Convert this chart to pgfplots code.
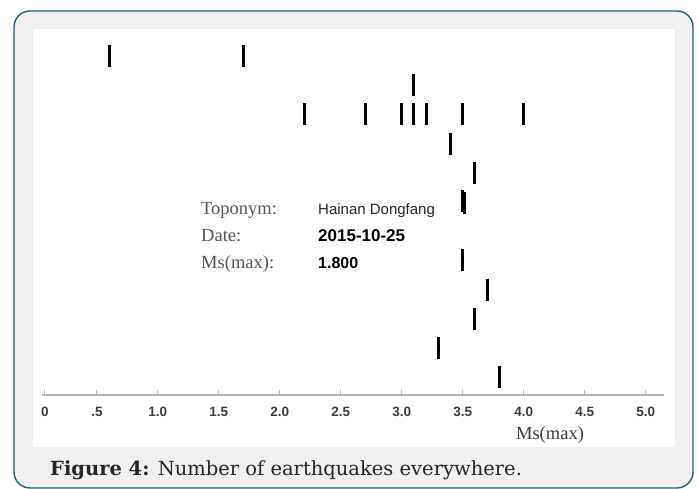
\documentclass[border=0pt]{standalone}
\usepackage{fontspec}
\setmainfont{Liberation Serif}
\newfontfamily\arialf{Liberation Sans}
\newfontfamily\capf{DejaVu Serif}
\usepackage{pgfplots}
\pgfplotsset{compat=1.18}
\definecolor{frameblue}{HTML}{1E5F7A}
\definecolor{framebg}{HTML}{F1F0EE}
\definecolor{axgray}{HTML}{B4B4B4}
\definecolor{ticklab}{HTML}{3C3C3C}
\definecolor{serifgray}{HTML}{555555}
\begin{document}
\begin{tikzpicture}[x=1pt,y=1pt]
\path[use as bounding box] (0,0) rectangle (699,489);
\draw[frameblue, line width=1.4pt, fill=framebg, rounded corners=16pt] (14,1) rectangle (693,478);
\fill[white] (33,42) rectangle (675,460);
\begin{axis}[at={(42pt,94pt)}, anchor=south west, scale only axis,
  width=622pt, height=368.2pt,
  xmin=0.05, xmax=5.15, ymin=0.39, ymax=13,
  axis x line*=bottom, axis y line=none,
  clip=false,
  axis line style={axgray, line width=1.5pt},
  tick align=inside, major tick length=5pt,
  x tick style={axgray, line width=1pt},
  xtick={0.074,0.5,1,1.5,2,2.5,3,3.5,4,4.5,5},
  xticklabels={0,.5,1.0,1.5,2.0,2.5,3.0,3.5,4.0,4.5,5.0},
  xticklabel style={font=\arialf\bfseries\fontsize{13.5}{13.5}\selectfont, text=ticklab, yshift=-9pt},
  ytick=\empty,
]
\addplot[only marks, mark=|, mark size=11pt, mark options={line width=3pt, black}] coordinates {
 (0.6,12) (1.7,12)
 (3.1,11)
 (2.2,10) (2.7,10) (3.0,10) (3.1,10) (3.2,10) (3.5,10) (4.0,10)
 (3.4,9)
 (3.6,8)
 (3.495,7.03) (3.515,6.97)
 (3.5,5)
 (3.7,4)
 (3.6,3)
 (3.3,2)
 (3.8,1)
};
\end{axis}
\node[anchor=base, text=ticklab, font=\fontsize{18.5}{18.5}\selectfont] at (550,49) {Ms(max)};
\node[anchor=base west, inner sep=0pt, text=serifgray, font=\fontsize{18.5}{18.5}\selectfont] at (201,274) {Toponym:};
\node[anchor=base west, inner sep=0pt, text=serifgray, font=\fontsize{18.5}{18.5}\selectfont] at (201,247) {Date:};
\node[anchor=base west, inner sep=0pt, text=serifgray, font=\fontsize{18.5}{18.5}\selectfont] at (201,220) {Ms(max):};
\node[anchor=base west, inner sep=0pt, text=black!85, font=\arialf\fontsize{15}{15}\selectfont] at (318,274) {Hainan Dongfang};
\node[anchor=base west, inner sep=0pt, text=black, font=\arialf\bfseries\fontsize{17}{17}\selectfont] at (318,247) {2015-10-25};
\node[anchor=base west, inner sep=0pt, text=black, font=\arialf\bfseries\fontsize{16}{16}\selectfont] at (318,220) {1.800};
\node[anchor=base west, inner sep=0pt, text=black!85, font=\capf\fontsize{19.5}{19.5}\selectfont] at (50,13) {\textbf{Figure 4:} Number of earthquakes everywhere.};
\end{tikzpicture}
\end{document}
